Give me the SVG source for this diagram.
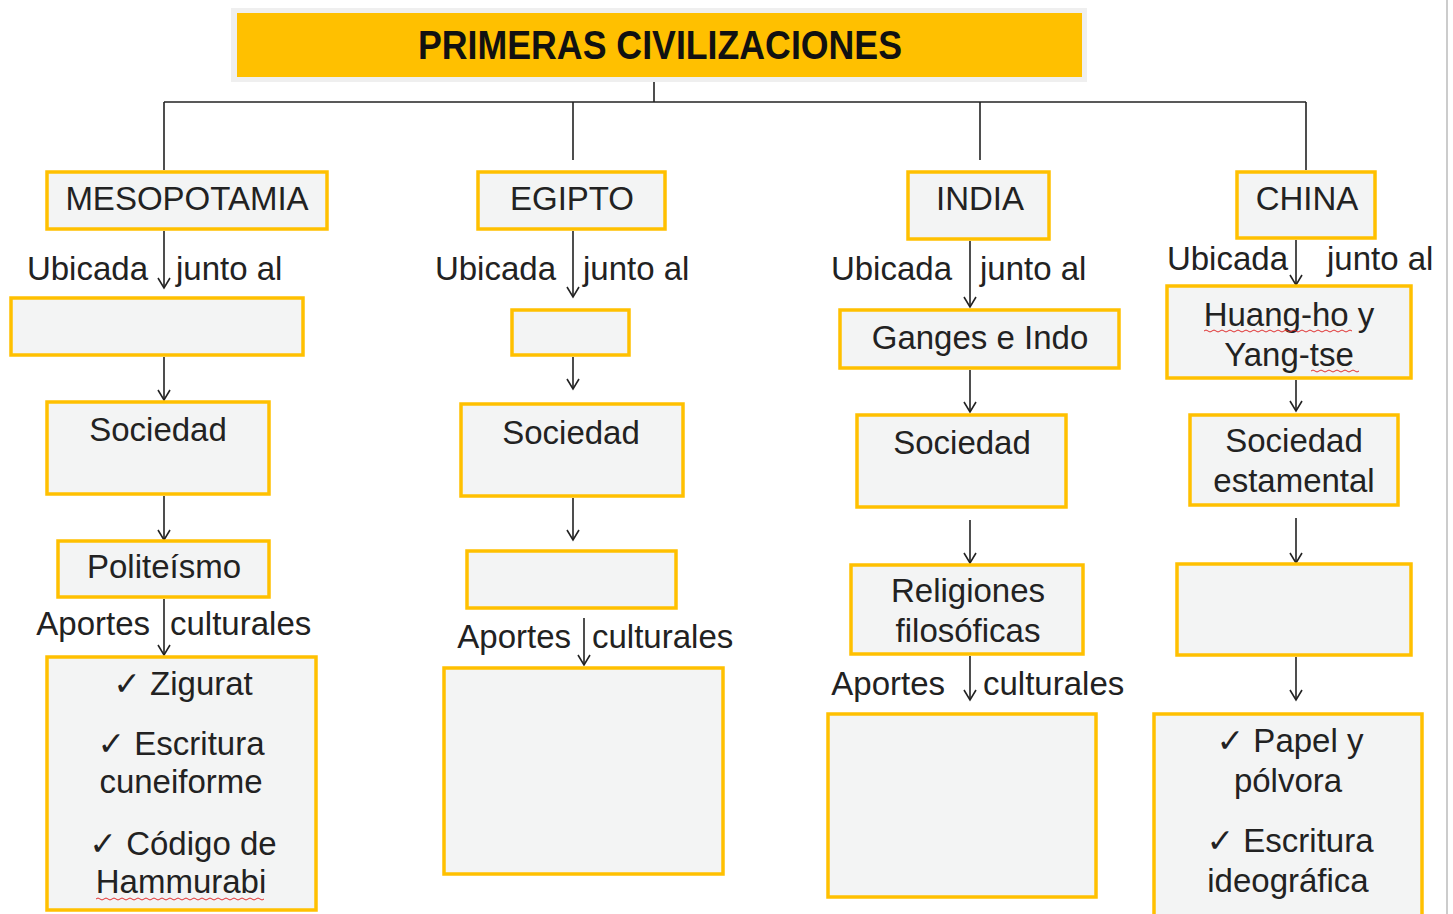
<svg xmlns="http://www.w3.org/2000/svg" width="1453" height="914" viewBox="0 0 1453 914">
<style>
.box{fill:#f3f4f4;stroke:#ffc000;stroke-width:3.5}
.t{font-family:"Liberation Sans","DejaVu Sans",Arial,sans-serif;font-size:33px;fill:#222;text-anchor:middle}
.l{font-family:"Liberation Sans","DejaVu Sans",Arial,sans-serif;font-size:33px;fill:#222}
.e{text-anchor:end}
.c{stroke:#222;stroke-width:1.6;fill:none}
.a{stroke:#222;stroke-width:1.6;fill:none;marker-end:url(#arr)}
.sq{stroke:#e03030;stroke-width:1;fill:none}
</style>
<defs>
<marker id="arr" markerUnits="userSpaceOnUse" viewBox="-12 -8 14 16" refX="0" refY="0" markerWidth="14" markerHeight="16" orient="auto">
<path d="M-10,-6 L0,0 L-10,6" fill="none" stroke="#222" stroke-width="1.6"/>
</marker>
</defs>
<rect x="0" y="0" width="1453" height="914" fill="#ffffff"/>
<line x1="1447" y1="0" x2="1447" y2="914" stroke="#cccccc" stroke-width="2"/>

<g id="title">
<rect x="231" y="8" width="856" height="74" fill="#efefef"/>
<rect x="237" y="13" width="845" height="64" fill="#ffc000"/>
<text x="660" y="59" font-family="'Liberation Sans Narrow','Liberation Sans',sans-serif" font-weight="bold" font-size="40" fill="#111" text-anchor="middle" textLength="484" lengthAdjust="spacingAndGlyphs">PRIMERAS CIVILIZACIONES</text>
</g>

<g id="connectors">
<line class="c" x1="654" y1="82" x2="654" y2="102"/>
<line class="c" x1="164" y1="102" x2="1306" y2="102"/>
<line class="c" x1="164" y1="102" x2="164" y2="170"/>
<line class="c" x1="573" y1="102" x2="573" y2="160"/>
<line class="c" x1="980" y1="102" x2="980" y2="160"/>
<line class="c" x1="1306" y1="102" x2="1306" y2="170"/>
<line class="a" x1="164" y1="231" x2="164" y2="288"/>
<line class="a" x1="164" y1="357" x2="164" y2="400"/>
<line class="a" x1="164" y1="496" x2="164" y2="540"/>
<line class="a" x1="164" y1="599" x2="164" y2="655"/>
<line class="a" x1="573" y1="231" x2="573" y2="297"/>
<line class="a" x1="573" y1="357" x2="573" y2="389"/>
<line class="a" x1="573" y1="498" x2="573" y2="540"/>
<line class="a" x1="584" y1="618" x2="584" y2="665"/>
<line class="a" x1="970" y1="241" x2="970" y2="307"/>
<line class="a" x1="970" y1="370" x2="970" y2="412"/>
<line class="a" x1="970" y1="520" x2="970" y2="563"/>
<line class="a" x1="970" y1="656" x2="970" y2="700"/>
<line class="a" x1="1296" y1="240" x2="1296" y2="285"/>
<line class="a" x1="1296" y1="380" x2="1296" y2="411"/>
<line class="a" x1="1296" y1="518" x2="1296" y2="563"/>
<line class="a" x1="1296" y1="657" x2="1296" y2="700"/>
</g>

<g id="labels">
<text class="l e" x="148" y="280">Ubicada</text>
<text class="l" x="176" y="280">junto al</text>
<text class="l e" x="150" y="635">Aportes</text>
<text class="l" x="170" y="635">culturales</text>
<text class="l e" x="556" y="280">Ubicada</text>
<text class="l" x="583" y="280">junto al</text>
<text class="l e" x="571" y="648">Aportes</text>
<text class="l" x="592" y="648">culturales</text>
<text class="l e" x="952" y="280">Ubicada</text>
<text class="l" x="980" y="280">junto al</text>
<text class="l e" x="945" y="695">Aportes</text>
<text class="l" x="983" y="695">culturales</text>
<text class="l e" x="1288" y="270">Ubicada</text>
<text class="l" x="1327" y="270">junto al</text>
</g>

<g id="mesopotamia"><rect class="box" x="47" y="172" width="280" height="57"/><text class="t" x="187" y="210">MESOPOTAMIA</text></g>
<g id="meso-rio"><rect class="box" x="11" y="298" width="292" height="57"/></g>
<g id="meso-sociedad"><rect class="box" x="47" y="402" width="222" height="92"/><text class="t" x="158" y="441">Sociedad</text></g>
<g id="meso-religion"><rect class="box" x="58" y="541" width="211" height="56"/><text class="t" x="164" y="578">Politeísmo</text></g>
<g id="meso-aportes"><rect class="box" x="47" y="657" width="269" height="253"/>
<text class="t" x="183" y="695">✓ Zigurat</text>
<text class="t" x="181" y="755">✓ Escritura</text>
<text class="t" x="181" y="793">cuneiforme</text>
<text class="t" x="183" y="855">✓ Código de</text>
<text class="t" x="181" y="893">Hammurabi</text>
<path class="sq" d="M96,899 q2,-2 4,0 t4,0 t4,0 t4,0 t4,0 t4,0 t4,0 t4,0 t4,0 t4,0 t4,0 t4,0 t4,0 t4,0 t4,0 t4,0 t4,0 t4,0 t4,0 t4,0 t4,0 t4,0 t4,0 t4,0 t4,0 t4,0 t4,0 t4,0 t4,0 t4,0 t4,0 t4,0 t4,0 t4,0 t4,0 t4,0 t4,0 t4,0 t4,0 t4,0 t4,0 t4,0"/>
</g>

<g id="egipto"><rect class="box" x="478" y="172" width="187" height="57"/><text class="t" x="572" y="210">EGIPTO</text></g>
<g id="egipto-rio"><rect class="box" x="512" y="310" width="117" height="45"/></g>
<g id="egipto-sociedad"><rect class="box" x="461" y="404" width="222" height="92"/><text class="t" x="571" y="444">Sociedad</text></g>
<g id="egipto-religion"><rect class="box" x="467" y="551" width="209" height="57"/></g>
<g id="egipto-aportes"><rect class="box" x="444" y="668" width="279" height="206"/></g>

<g id="india"><rect class="box" x="908" y="172" width="141" height="67"/><text class="t" x="980" y="210">INDIA</text></g>
<g id="india-rio"><rect class="box" x="840" y="310" width="279" height="58"/><text class="t" x="980" y="349">Ganges e Indo</text></g>
<g id="india-sociedad"><rect class="box" x="857" y="415" width="209" height="92"/><text class="t" x="962" y="454">Sociedad</text></g>
<g id="india-religion"><rect class="box" x="851" y="565" width="232" height="89"/><text class="t" x="968" y="602">Religiones</text><text class="t" x="968" y="642">filosóficas</text></g>
<g id="india-aportes"><rect class="box" x="828" y="714" width="268" height="183"/></g>

<g id="china"><rect class="box" x="1237" y="172" width="138" height="66"/><text class="t" x="1307" y="210">CHINA</text></g>
<g id="china-rio"><rect class="box" x="1167" y="286" width="244" height="92"/>
<text class="t" x="1289" y="326">Huang-ho y</text>
<text class="t" x="1289" y="366">Yang-tse</text>
<path class="sq" d="M1204,331 q2,-2 4,0 t4,0 t4,0 t4,0 t4,0 t4,0 t4,0 t4,0 t4,0 t4,0 t4,0 t4,0 t4,0 t4,0 t4,0 t4,0 t4,0 t4,0 t4,0 t4,0 t4,0 t4,0 t4,0 t4,0 t4,0 t4,0 t4,0 t4,0 t4,0 t4,0 t4,0 t4,0 t4,0 t4,0 t4,0 t4,0 t4,0"/>
<path class="sq" d="M1311,371 q2,-2 4,0 t4,0 t4,0 t4,0 t4,0 t4,0 t4,0 t4,0 t4,0 t4,0 t4,0 t4,0"/>
</g>
<g id="china-sociedad"><rect class="box" x="1190" y="415" width="208" height="90"/><text class="t" x="1294" y="452">Sociedad</text><text class="t" x="1294" y="492">estamental</text></g>
<g id="china-religion"><rect class="box" x="1177" y="564" width="234" height="91"/></g>
<g id="china-aportes"><rect class="box" x="1154" y="714" width="268" height="210"/>
<text class="t" x="1290" y="752">✓ Papel y</text>
<text class="t" x="1288" y="792">pólvora</text>
<text class="t" x="1290" y="852">✓ Escritura</text>
<text class="t" x="1288" y="892">ideográfica</text>
</g>
</svg>
